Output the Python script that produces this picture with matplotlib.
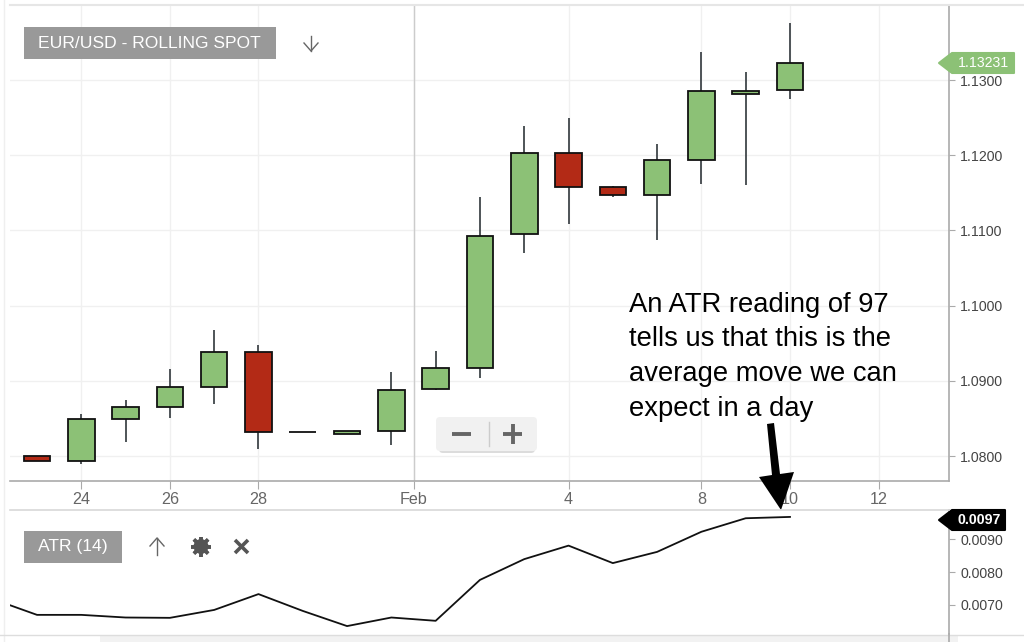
#!python3
import matplotlib
matplotlib.use("Agg")
import numpy as np
import matplotlib.pyplot as plt
from matplotlib.patches import Circle, FancyBboxPatch, Polygon, Rectangle

plt.rcParams["font.family"] = ["Liberation Sans", "DejaVu Sans"]

# Daily candles
days = list(range(18))
opens = [1.0800, 1.07934, 1.08492, 1.08652, 1.08918, 1.09383, 1.08319, 1.08293, 1.08332, 1.08891,
         1.0917, 1.10952, 1.12029, 1.11577, 1.11471, 1.11936, 1.12814, 1.12867]
closes = [1.07934, 1.08492, 1.08652, 1.08918, 1.09383, 1.08319, 1.08319, 1.08332, 1.08878, 1.0917,
          1.10926, 1.12029, 1.11577, 1.11471, 1.11936, 1.12854, 1.12854, 1.13226]
highs = [1.0800, 1.08559, 1.08745, 1.09157, 1.09676, 1.09476, 1.08319, 1.08332, 1.09117, 1.09396,
         1.11444, 1.12388, 1.12495, 1.1159, 1.12149, 1.13372, 1.13106, 1.13758]
lows = [1.07934, 1.07894, 1.08186, 1.08505, 1.08691, 1.08093, 1.08319, 1.08293, 1.08146, 1.08878,
        1.09037, 1.107, 1.11085, 1.11444, 1.10872, 1.11617, 1.11604, 1.12747]
price_ticks = [1.08, 1.09, 1.10, 1.11, 1.12, 1.13]

atr_days = list(range(-1, 18))
atr = [0.00718, 0.00670, 0.00670, 0.00662, 0.00661, 0.00685, 0.00733, 0.00682, 0.00636, 0.00662,
       0.00652, 0.00776, 0.00839, 0.00880, 0.00827, 0.00861, 0.00922, 0.00963, 0.00967]
atr_ticks = [0.007, 0.008, 0.009]

date_pos = [1, 3, 5, 8.5, 12, 15, 17, 19]
date_labels = ["24", "26", "28", "Feb", "4", "8", "10", "12"]

GREEN = "#8CC176"
RED = "#B32A16"
W, H = 1024, 642


def axes_px(left, top, right, bottom):
    return fig.add_axes([left / W, 1 - bottom / H, (right - left) / W, (bottom - top) / H])


fig = plt.figure(figsize=(W / 100, H / 100), dpi=100)

# ---- Price panel ----
ax = axes_px(10, 6, 949, 481)
colors = [GREEN if c >= o else RED for o, c in zip(opens, closes)]
ax.vlines(days, lows, highs, color="#40464a", lw=1.3, zorder=2)
ax.bar(days, [c - o for o, c in zip(opens, closes)], bottom=opens, width=0.6, color=colors,
       edgecolor="#111111", lw=1.3, zorder=3)
ax.set_xlim(-0.61, 20.59)
ax.set_ylim(1.07668, 1.13984)
ax.set_xticks(date_pos)
ax.set_xticklabels(date_labels, fontsize=11.6, color="#666666")
ax.yaxis.tick_right()
ax.set_yticks(price_ticks)
ax.set_yticklabels(["%.4f" % t for t in price_ticks], fontsize=10.2, color="#444444")
ax.tick_params(axis="x", length=6, color="#aaaaaa", pad=2)
ax.tick_params(axis="y", length=4, color="#aaaaaa", pad=4)
ax.grid(color="#f0f0f0", lw=1)
ax.set_axisbelow(True)
ax.axvline(8.5, color="#cccccc", lw=1, zorder=1)
for side in ["top", "left"]:
    ax.spines[side].set_visible(False)
for side in ["bottom", "right"]:
    ax.spines[side].set_color("#aaaaaa")
    ax.spines[side].set_linewidth(1.2)

# ---- ATR panel ----
ax2 = axes_px(10, 510, 949, 634)
ax2.plot(atr_days, atr, color="#111111", lw=1.3)
ax2.set_xlim(-0.61, 20.59)
ax2.set_ylim(0.00612, 0.00988)
ax2.set_xticks([])
ax2.yaxis.tick_right()
ax2.set_yticks(atr_ticks)
ax2.set_yticklabels(["%.4f" % t for t in atr_ticks], fontsize=10.2, color="#444444")
ax2.tick_params(axis="y", length=4, color="#aaaaaa", pad=4)
for side in ["top", "left", "bottom"]:
    ax2.spines[side].set_visible(False)
ax2.spines["right"].set_color("#aaaaaa")
ax2.spines["right"].set_linewidth(1.2)

# ---- Overlay in pixel coordinates for the chart furniture ----
ov = fig.add_axes([0, 0, 1, 1], zorder=5)
ov.set_xlim(0, W)
ov.set_ylim(H, 0)
ov.axis("off")
ov.patch.set_alpha(0)

ov.plot([10, 1024], [5, 5], color="#e6e6e6", lw=1.5)
ov.plot([4, 4], [0, 642], color="#efefef", lw=1)
ov.plot([10, 949], [510, 510], color="#d8d8d8", lw=1.2)
ov.plot([0, 1024], [634.5, 634.5], color="#dddddd", lw=1)
ov.plot([949, 949], [634, 642], color="#aaaaaa", lw=1.2)
ov.add_patch(Rectangle((100, 636), 858, 6, color="#f2f2f2", lw=0))

# title and indicator labels
ov.add_patch(Rectangle((24, 27), 252, 32, color="#999999", lw=0))
ov.text(38, 43.5, "EUR/USD - ROLLING SPOT", color="white", fontsize=12.6, va="center")
ov.add_patch(Rectangle((24, 531), 98, 32, color="#999999", lw=0))
ov.text(38, 547, "ATR (14)", color="white", fontsize=12.6, va="center")


def thin_arrow(x, tip, tail):
    d = 1 if tail > tip else -1
    ov.plot([x, x], [tip, tail], color="#666666", lw=1)
    ov.plot([x - 7, x, x + 7], [tip + 8 * d, tip, tip + 8 * d], color="#666666", lw=1)


thin_arrow(311, 51, 36)
thin_arrow(157, 538, 555)

# gear icon
for a in np.arange(8) * np.pi / 4:
    ov.plot([201 - 10 * np.cos(a), 201 + 10 * np.cos(a)], [546.5 - 10 * np.sin(a), 546.5 + 10 * np.sin(a)],
            color="#555555", lw=2.6, solid_capstyle="butt")
ov.add_patch(Circle((201, 546.5), 7.5, fc="#555555", ec="none"))
ov.add_patch(Circle((201, 546.5), 3, fc="white", ec="none"))

ov.plot([235, 248], [540, 553], color="#555555", lw=2.6, solid_capstyle="butt")
ov.plot([235, 248], [553, 540], color="#555555", lw=2.6, solid_capstyle="butt")

# last value tags
ov.add_patch(Polygon([(939, 63), (952, 53), (1014, 53), (1014, 73), (952, 73)], fc=GREEN, ec=GREEN, lw=1.5,
                     joinstyle="round"))
ov.text(958, 63, "1.13231", color="white", fontsize=10.2, va="center")
ov.add_patch(Polygon([(939, 520), (952, 510), (1005, 510), (1005, 530), (952, 530)], fc="black", ec="black", lw=1.5,
                     joinstyle="round"))
ov.text(958, 520, "0.0097", color="white", fontsize=10.2, fontweight="bold", va="center")

# zoom widget
ov.add_patch(FancyBboxPatch((439, 420), 96, 33, boxstyle="round,pad=0,rounding_size=4", fc="#dcdcdc", ec="none"))
ov.add_patch(FancyBboxPatch((436, 417), 101, 34, boxstyle="round,pad=0,rounding_size=4", fc="#f1f1f1", ec="none"))
ov.plot([489, 489], [422, 446], color="#cccccc", lw=1)
ov.plot([452, 471], [434, 434], color="#666666", lw=2.8, solid_capstyle="butt")
ov.plot([503, 522], [434, 434], color="#666666", lw=2.8, solid_capstyle="butt")
ov.plot([512.5, 512.5], [424, 444], color="#666666", lw=2.8, solid_capstyle="butt")

# callout
note = ["An ATR reading of 97", "tells us that this is the", "average move we can", "expect in a day"]
for i, line in enumerate(note):
    ov.text(629, 305 + 34.5 * i, line, color="black", fontsize=19.7, va="center")
ov.add_patch(Polygon([(767, 424), (774, 423), (780, 474), (794, 472), (781, 510), (759, 477), (772, 475)],
                     color="black", lw=0))

plt.savefig("out.png", dpi=100)
